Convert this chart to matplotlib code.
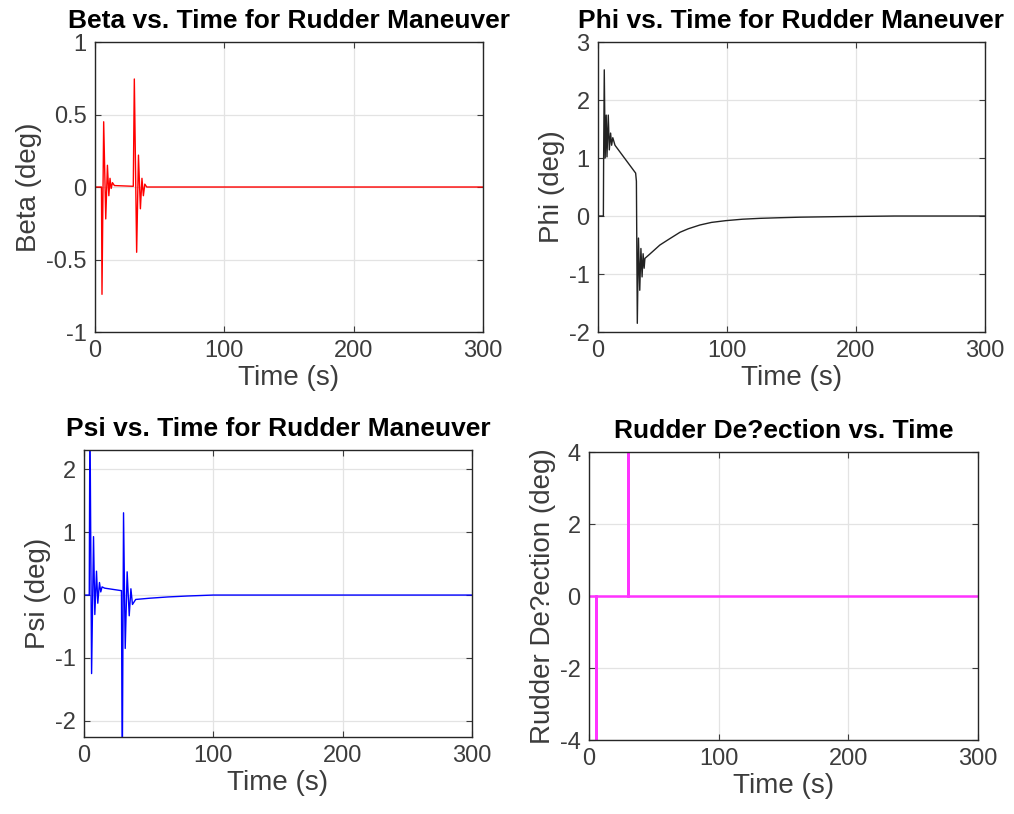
import numpy as np
import matplotlib
matplotlib.use("Agg")
import matplotlib.pyplot as plt

plt.rcParams['font.family'] = ['Liberation Sans', 'DejaVu Sans']
plt.rcParams['axes.unicode_minus'] = False

# sideslip angle beta (deg), peaks
beta_t = [0, 5.0, 5.4, 6.7, 8.3, 9.6, 10.7, 11.6, 12.5, 13.5, 15, 29.6,
          30.4, 32.2, 33.6, 35.1, 36.3, 37.4, 38.5, 40, 45, 300]
beta_v = [0, 0, -0.74, 0.45, -0.22, 0.15, -0.06, 0.06, -0.01, 0.03, 0.01, 0.005,
          0.745, -0.45, 0.22, -0.15, 0.06, -0.06, 0.02, 0.0, 0, 0]

# roll angle phi (deg)
phi_t = [0, 4.2, 4.4, 4.9, 5.6, 6.4, 7.0, 8.0, 8.8, 9.8, 10.6, 11.5, 13.2,
         29.2, 29.8, 30.5, 31.4, 32.4, 33.3, 34.2, 35.0, 35.8, 36.4,
         40, 44, 48, 55, 63.6, 70, 79, 88, 99, 112, 125.6, 140, 156.6, 188,
         230, 300]
phi_v = [0, 0, 1.0, 2.52, 1.0, 1.74, 1.02, 1.74, 1.14, 1.43, 1.22, 1.35, 1.22,
         0.74, 0.6, -1.85, -0.38, -1.28, -0.56, -1.05, -0.65, -0.9, -0.73,
         -0.66, -0.58, -0.5, -0.4, -0.28, -0.22, -0.155, -0.11, -0.08, -0.055,
         -0.04, -0.03, -0.02, -0.01, 0, 0]

# heading angle psi (deg)
psi_t = [0, 4.1, 4.6, 5.9, 7.4, 8.4, 9.7, 10.7, 12.0, 13.0, 14.0, 16, 29.0,
         29.6, 30.6, 31.9, 33.4, 35.0, 36.3, 37.5, 40, 51, 65, 80, 100, 300]
psi_v = [0, 0, 3.0, -1.25, 0.93, -0.31, 0.38, -0.13, 0.2, 0.05, 0.13, 0.11, 0.07,
         -3.0, 1.31, -0.85, 0.37, -0.33, 0.1, -0.15, -0.07, -0.05, -0.03, -0.015,
         0, 0]

# rudder input (deg)
rud_t = [0, 5, 5, 5, 30, 30, 30, 300]
rud_v = [0, 0, -5, 0, 0, 5, 0, 0]

panels = [
    (beta_t, beta_v, 'red', 'Beta vs. Time for Rudder Maneuver', 'Beta (deg)',
     (-1, 1), [-1, -0.5, 0, 0.5, 1], ['-1', '-0.5', '0', '0.5', '1'],
     [0.0937, 0.5921, 0.3826, 0.3563], 1.0),
    (phi_t, phi_v, '#222222', 'Phi vs. Time for Rudder Maneuver', 'Phi (deg)',
     (-2, 3), [-2, -1, 0, 1, 2, 3], None,
     [0.5897, 0.5921, 0.3817, 0.3563], 1.0),
    (psi_t, psi_v, 'blue', 'Psi vs. Time for Rudder Maneuver', 'Psi (deg)',
     (-2.26, 2.31), [-2, -1, 0, 1, 2], None,
     [0.0828, 0.0946, 0.3826, 0.3526], 1.0),
    (rud_t, rud_v, '#ff33ff', 'Rudder De?ection vs. Time', 'Rudder De?ection (deg)',
     (-4, 4), [-4, -2, 0, 2, 4], None,
     [0.5809, 0.0909, 0.3836, 0.3538], 1.8),
]

fig = plt.figure(figsize=(10.14, 8.14), dpi=100)
for t, v, col, title, ylab, ylim, yt, ytl, pos, lw in panels:
    ax = fig.add_axes(pos)
    ax.plot(t, v, color=col, lw=lw)
    ax.set_xlim(0, 300)
    ax.set_ylim(*ylim)
    ax.set_xticks([0, 100, 200, 300])
    ax.set_yticks(yt)
    if ytl:
        ax.set_yticklabels(ytl)
    ax.grid(True, color='#e3e3e3', lw=0.9)
    ax.set_axisbelow(True)
    ax.tick_params(direction='in', length=4, labelsize=17, colors='#3c3c3c',
                   top=True, right=True, pad=6)
    for s in ax.spines.values():
        s.set_color('#262626')
        s.set_linewidth(1.0)
    ax.set_title(title, fontsize=19, fontweight='bold', pad=10)
    ax.set_xlabel('Time (s)', fontsize=20, color='#3c3c3c', labelpad=2)
    ax.set_ylabel(ylab, fontsize=20, color='#3c3c3c', labelpad=3)

fig.savefig('out.png', dpi=100)
